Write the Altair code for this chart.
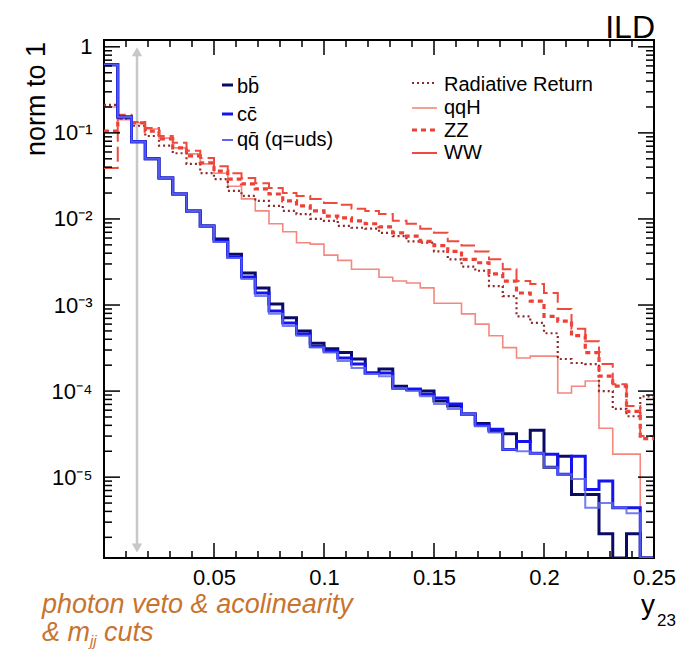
import altair as alt
import numpy as np
import pandas as pd

# ---------------- data ----------------
N_BINS = 40
X_MIN, X_MAX = 0.0, 0.25
Y_MIN, Y_MAX = 1.15e-6, 1.2

bb = [0.62, 0.153, 0.079, 0.050, 0.030, 0.0195, 0.0124, 0.0083, 0.00585, 0.0039,
      0.00236, 0.00158, 0.00103, 0.00071, 0.00050, 0.00036, 0.00031, 0.00028, 0.000236, 0.000162,
      0.00018, 0.000114, 0.000105, 0.000100, 0.0000766, 0.000067, 0.000054, 0.000042, 0.0000343, 0.000032,
      0.000026, 0.000035, 0.000013, 0.0000175, 0.0000063, 0.0000063, 0.0000022, 0.0, 0.0000022, 0.0]
cc = [0.62, 0.153, 0.079, 0.050, 0.030, 0.0195, 0.0124, 0.0083, 0.0055, 0.0036,
      0.00212, 0.00138, 0.00085, 0.00062, 0.00046, 0.00033, 0.00029, 0.000242, 0.000206, 0.000162,
      0.000162, 0.000108, 0.000105, 0.000092, 0.000083, 0.000071, 0.000054, 0.000040, 0.000036, 0.000021,
      0.000026, 0.000019, 0.0000185, 0.0000108, 0.0000175, 0.0000072, 0.000009, 0.0000044, 0.0000044, 0.0]
qq = [0.62, 0.153, 0.079, 0.050, 0.030, 0.0195, 0.0124, 0.0083, 0.0054, 0.00352,
      0.0020, 0.00127, 0.00079, 0.00057, 0.00044, 0.00032, 0.00028, 0.000223, 0.000185, 0.000158,
      0.000149, 0.000108, 0.000100, 0.000087, 0.000071, 0.000062, 0.000054, 0.000039, 0.000033, 0.000021,
      0.000020, 0.000019, 0.000013, 0.0000108, 0.0000095, 0.0000044, 0.000005, 0.0000044, 0.0000038, 0.0]
rad_return = [0.212, 0.146, 0.121, 0.092, 0.071, 0.058, 0.0436, 0.034, 0.029, 0.0212,
              0.0185, 0.0162, 0.0142, 0.0124, 0.0114, 0.0100, 0.0095, 0.0083, 0.0079, 0.0077,
              0.0069, 0.0063, 0.0055, 0.0053, 0.0042, 0.0034, 0.0028, 0.0025, 0.00166, 0.00127,
              0.00074, 0.00062, 0.00047, 0.000236, 0.000212, 0.000206, 0.000100, 0.000062, 0.000051, 0.000087]
qqH = [0.20, 0.142, 0.131, 0.111, 0.087, 0.067, 0.057, 0.0436, 0.034, 0.024,
       0.0171, 0.0124, 0.0088, 0.0071, 0.0053, 0.0051, 0.0038, 0.0033, 0.0026, 0.0026,
       0.0021, 0.0019, 0.0018, 0.00158, 0.00105, 0.00105, 0.00079, 0.00060, 0.00044, 0.00032,
       0.000242, 0.000255, 0.000255, 0.000095, 0.000114, 0.000131, 0.000037, 0.0000185, 0.0000185, 0.0]
ZZ = [0.105, 0.149, 0.131, 0.105, 0.085, 0.067, 0.054, 0.045, 0.036, 0.029,
      0.0255, 0.0223, 0.0195, 0.0162, 0.0142, 0.0124, 0.0108, 0.0103, 0.0095, 0.0088,
      0.0081, 0.0069, 0.0063, 0.0055, 0.0049, 0.0042, 0.0034, 0.0031, 0.0023, 0.0019,
      0.00138, 0.00111, 0.00074, 0.00065, 0.00044, 0.00028, 0.000149, 0.000114, 0.000058, 0.000028]
WW = [0.039, 0.162, 0.134, 0.114, 0.092, 0.077, 0.062, 0.051, 0.041, 0.034,
      0.030, 0.026, 0.0229, 0.020, 0.0185, 0.0171, 0.0153, 0.0146, 0.0131, 0.0124,
      0.0114, 0.0095, 0.0088, 0.0077, 0.0069, 0.0055, 0.0049, 0.0042, 0.0034, 0.0026,
      0.0019, 0.00175, 0.00138, 0.00090, 0.00053, 0.00038, 0.000206, 0.00012, 0.000067, 0.000030]

CUT_Y23 = 0.015
ARROW_TOP, ARROW_BOTTOM = 0.875, 1.5e-6

X_LABELS = [0.05, 0.10, 0.15, 0.20, 0.25]
Y_DECADES = [1.0, 1e-1, 1e-2, 1e-3, 1e-4, 1e-5]

# ---------------- layout ----------------
W, H = 550, 518
FONT = "Liberation Sans"

edges = np.linspace(X_MIN, X_MAX, N_BINS + 1)


def step_df(vals):
    v = [max(a, Y_MIN) for a in vals]
    v = v + [v[-1]]
    return pd.DataFrame({"x": edges, "v": v})


XS = alt.Scale(domain=[X_MIN, X_MAX], nice=False, zero=False)
YS = alt.Scale(type="log", domain=[Y_MIN, Y_MAX], nice=False)

XAXIS = alt.Axis(values=X_LABELS, format=".2~f", labelFontSize=22, labelFont=FONT,
                 labelColor="black", labelPadding=9, ticks=False, domain=False,
                 grid=False, title=None, labelFlush=False, labelOverlap=False,
                 labelBound=False)
YLABEL = ("datum.value > 0.5 ? '1' : datum.value > 0.05 ? '10\u207b\u00b9' : "
          "datum.value > 0.005 ? '10\u207b\u00b2' : datum.value > 0.0005 ? '10\u207b\u00b3' : "
          "datum.value > 0.00005 ? '10\u207b\u2074' : '10\u207b\u2075'")
YAXIS = alt.Axis(values=Y_DECADES, labelExpr=YLABEL, labelFontSize=22, labelFont=FONT,
                 labelColor="black", labelPadding=12, ticks=False, domain=False,
                 grid=False, title=None, labelOverlap=False, labelBound=False)

XENC = alt.X("x:Q", scale=XS, axis=XAXIS)
YENC = alt.Y("v:Q", scale=YS, axis=YAXIS)


def hist(vals, color, width, dash=None, opacity=1.0):
    kw = dict(interpolate="step-after", clip=True, color=color, strokeWidth=width,
              opacity=opacity)
    if dash:
        kw["strokeDash"] = dash
    return alt.Chart(step_df(vals)).mark_line(**kw).encode(x=XENC, y=YENC)


C_BB, C_CC, C_QQ = "#0B0B66", "#1414F0", "#5A66EE"
C_RR, C_QQH, C_ZZ, C_WW = "#8E2A2A", "#F4877E", "#EE4036", "#EE4A3E"
D_RR, D_ZZ, D_WW = [2, 3], [5, 4], [15, 5]

layers = []
# gray arrow (y23 cut)
arrow_df = pd.DataFrame({"x": [CUT_Y23], "v": [ARROW_TOP], "v2": [ARROW_BOTTOM]})
layers.append(alt.Chart(arrow_df).mark_rule(color="#C8C8C8", strokeWidth=2.5).encode(
    x=XENC, y=YENC, y2="v2:Q"))
layers.append(alt.Chart(arrow_df).mark_point(shape="triangle-up", filled=True, size=110,
                                             color="#C8C8C8", opacity=1).encode(x=XENC, y=YENC))
layers.append(alt.Chart(arrow_df).mark_point(shape="triangle-down", filled=True, size=110,
                                             color="#C8C8C8", opacity=1).encode(
    x=XENC, y=alt.Y("v2:Q", scale=YS, axis=YAXIS)))

# red histograms
layers.append(hist(qqH, C_QQH, 1.6))
layers.append(hist(rad_return, C_RR, 2.2, D_RR))
layers.append(hist(ZZ, C_ZZ, 3.2, D_ZZ))
layers.append(hist(WW, C_WW, 2.0, D_WW))
# blue histograms
layers.append(hist(bb, C_BB, 3.0))
layers.append(hist(cc, C_CC, 3.0))
layers.append(hist(qq, C_QQ, 2.0, opacity=0.85))

# inward axis ticks (ROOT style, mirrored on all sides)
x_major = pd.DataFrame({"x": X_LABELS})
x_minor = pd.DataFrame({"x": [round(0.01 * k, 2) for k in range(1, 25) if k % 5 != 0]})
y_major = pd.DataFrame({"v": [d for d in Y_DECADES]})
y_minor = pd.DataFrame({"v": [k * 10.0 ** e for e in range(-6, 0) for k in range(2, 10)
                              if Y_MIN < k * 10.0 ** e < Y_MAX]})
TK = dict(color="black", strokeWidth=1.5)
for df, ln in ((x_major, 15), (x_minor, 7)):
    layers.append(alt.Chart(df).mark_rule(**TK).encode(x=XENC, y=alt.value(H), y2=alt.value(H - ln)))
    layers.append(alt.Chart(df).mark_rule(**TK).encode(x=XENC, y=alt.value(0), y2=alt.value(ln)))
for df, ln in ((y_major, 16), (y_minor, 8)):
    layers.append(alt.Chart(df).mark_rule(**TK).encode(y=YENC, x=alt.value(0), x2=alt.value(ln)))
    layers.append(alt.Chart(df).mark_rule(**TK).encode(y=YENC, x=alt.value(W), x2=alt.value(W - ln)))

one = pd.DataFrame({"d": [0]})


def seg(x1, x2, y, color, width, dash=None):
    kw = dict(color=color, strokeWidth=width)
    if dash:
        kw["strokeDash"] = dash
    return alt.Chart(one).mark_rule(**kw).encode(x=alt.value(x1), x2=alt.value(x2), y=alt.value(y))


def txt(s, x, y, size=20, color="black", align="left", baseline="alphabetic", style="normal", angle=0):
    return alt.Chart(one).mark_text(text=s, font=FONT, fontSize=size, color=color, align=align,
                                    baseline=baseline, fontStyle=style, angle=angle).encode(
        x=alt.value(x), y=alt.value(y))


# left legend (quark flavours)
leg_left = [("b" + "b\u0304", C_BB, 3.0, 45, 53),
            ("c" + "c\u0304", C_CC, 3.0, 74, 81),
            ("q" + "q\u0304" + " (q=uds)", C_QQ, 2.0, 100, 106)]
for label, col, wd, ys, yt in leg_left:
    layers.append(seg(118, 129, ys, col, wd))
    layers.append(txt(label, 133, yt, 20))

# right legend (backgrounds)
leg_right = [("Radiative Return", C_RR, 2.2, D_RR, 43, 51),
             ("qqH", C_QQH, 1.6, None, 68, 74),
             ("ZZ", C_ZZ, 3.2, D_ZZ, 90, 97),
             ("WW", C_WW, 2.0, None, 113, 119)]
for label, col, wd, dash, ys, yt in leg_right:
    layers.append(seg(308, 333, ys, col, wd, dash))
    layers.append(txt(label, 340, yt, 20))

# titles and annotations
layers.append(txt("ILD", 551, -2, 32, align="right"))
layers.append(txt("norm to 1", -67, 2, 27, align="right", baseline="middle", angle=270))
layers.append(txt("y", 537, 574, 28))
layers.append(txt("23", 553, 586, 17))
ORANGE = "#C8742F"
layers.append(txt("photon veto & acolinearity", -62, 573, 27, color=ORANGE, style="italic"))
layers.append(txt("& m", -62, 601, 27, color=ORANGE, style="italic"))
layers.append(txt("jj", -14, 606, 15, color=ORANGE, style="italic"))
layers.append(txt("cuts", 0, 601, 27, color=ORANGE, style="italic"))

chart = alt.layer(*layers).properties(
    width=W, height=H,
    padding={"left": 96, "top": 32, "right": 29, "bottom": 93},
    autosize=alt.AutoSizeParams(type="none"),
    background="white",
).configure_view(stroke="black", strokeWidth=2)

chart.save("out.html", embed_options={"renderer": "svg", "actions": False})
